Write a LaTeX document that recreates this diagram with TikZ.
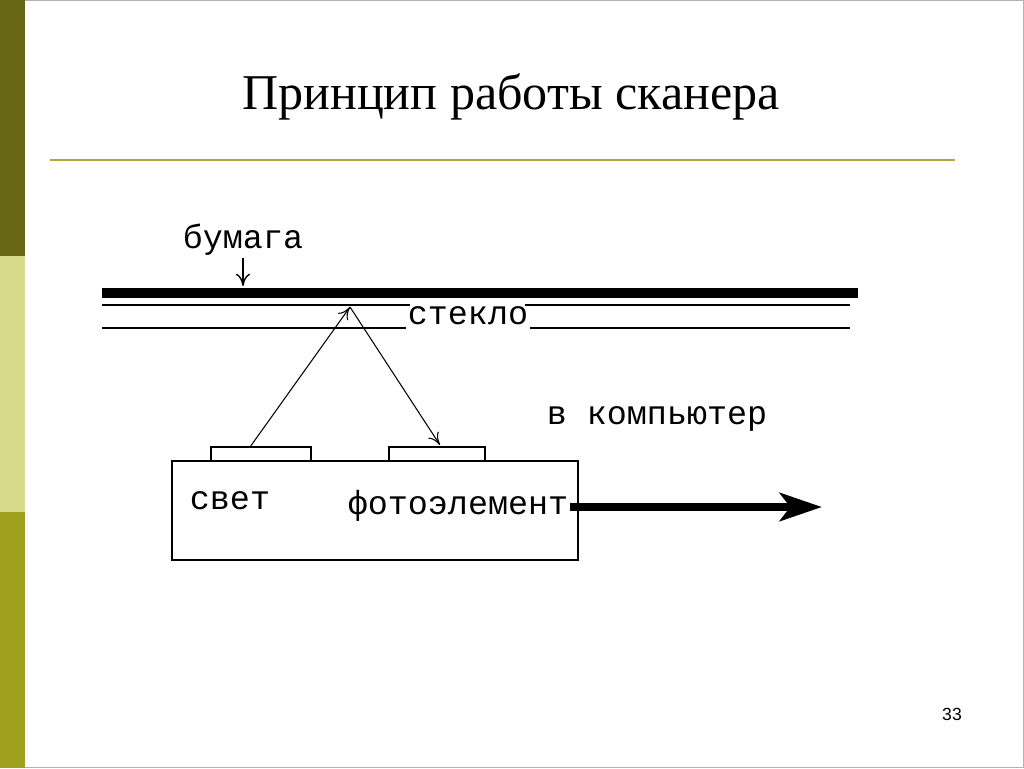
\documentclass[tikz,border=0pt]{standalone}
\usepackage{fontspec}
\setmainfont{Liberation Serif}
\setmonofont{Liberation Mono}
\setsansfont{Liberation Sans}
\usetikzlibrary{arrows.meta}
\definecolor{oliveA}{RGB}{102,102,20}
\definecolor{oliveB}{RGB}{214,218,138}
\definecolor{oliveC}{RGB}{160,160,30}
\definecolor{ruleC}{RGB}{176,166,60}
\tikzset{>=latex}
\tikzset{glass/.style={line width=1.6pt},
  lbl/.style={font=\ttfamily\fontsize{19}{21}\selectfont, inner sep=1pt},
  ray/.style={-{To[length=7pt, width=7pt]}, line width=0.6pt},
  pad/.style={draw, line width=1.2pt}}
\begin{document}
\begin{tikzpicture}[x=0.02cm, y=-0.02cm]
    \useasboundingbox(0, 0)rectangle(1024, 768);
    \fill[white](0, 0)rectangle(1024, 768);
    \draw[gray!60](0.5, 0.5)rectangle(1023.5, 767.5);
    \fill[oliveA](0, 0)rectangle(25, 256);
    \fill[oliveB](0, 256)rectangle(25, 512);
    \fill[oliveC](0, 512)rectangle(25, 768);
    \node (title) at (511, 97){\fontsize{28.5}{32}\selectfont Принцип работы сканера};
    \draw[ruleC, line width=1.2pt](50, 160)--(955, 160);
    % paper and glass
    \draw[line width=5.5pt](102, 293)--(858, 293);
    \node[lbl] (glass) at (468, 316){стекло};
    \draw[glass](102, 305)--(410, 305) (525, 305)--(850, 305);
    \draw[glass](102, 328)--(glass.west |- 0, 328) (glass.east |- 0, 328)--(850, 328);
    \node[lbl] (paper) at (243, 240){бумага};
    \coordinate (paperin) at (243, 286);
    \draw[-{To[length=7pt, width=8pt]}, line width=0.8pt](paper.south)--(paperin);
    % scanner head
    \draw[pad](172, 461)rectangle(578, 560);
    \draw[pad](211, 461)--(211, 447)--(311, 447)--(311, 461);
    \draw[pad](389, 461)--(389, 447)--(485, 447)--(485, 461);
    \coordinate (lamp) at (250, 447);
    \coordinate (spot) at (350, 307);
    \coordinate (cell) at (440, 445);
    \draw[ray](lamp)--(spot);
    \draw[ray](spot)--(cell);
    \node[lbl] (light) at (230, 501){свет};
    \node[lbl] (photo) at (458, 506){фотоэлемент};
    \coordinate (pc) at (822, 507);
    \draw[-{Stealth[length=24pt, width=16pt, inset=6pt]}, line width=5pt](photo.east |- 0, 507)--(pc);
    \node[lbl] (out) at (657, 419){в компьютер};
    \node[font=\sffamily\fontsize{10}{12}\selectfont] (num) at (952, 714){33};
\end{tikzpicture}
\end{document}
